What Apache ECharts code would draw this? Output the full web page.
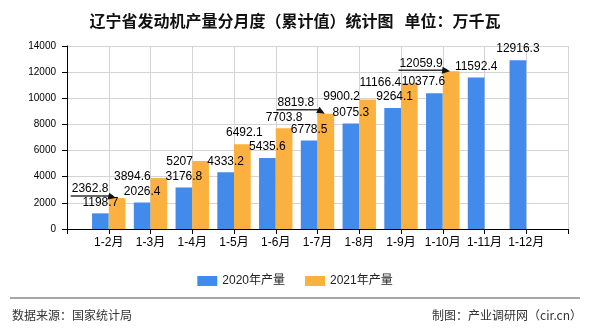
<!DOCTYPE html>
<html>
<head>
<meta charset="utf-8">
<script src="https://cdn.jsdelivr.net/npm/echarts@6/dist/echarts.min.js"></script>
<style>
html,body{margin:0;padding:0;background:#fff;}
#c{width:590px;height:330px;}
</style>
</head>
<body>
<div id="c"></div>
<script>
// ---- data ----
var categories = ['1-2月','1-3月','1-4月','1-5月','1-6月','1-7月','1-8月','1-9月','1-10月','1-11月','1-12月'];
var values2020 = [1198.7, 2026.4, 3176.8, 4333.2, 5435.6, 6778.5, 8075.3, 9264.1, 10377.6, 11592.4, 12916.3];
var values2021 = [2362.8, 3894.6, 5207, 6492.1, 7703.8, 8819.8, 9900.2, 11166.4, 12059.9, null, null];
var seriesNames = ['2020年产量', '2021年产量'];
var yTicks = [0, 2000, 4000, 6000, 8000, 10000, 12000, 14000];

// ---- label layout tweaks (style only) ----
var blueLabelOffsets = [[0,0],[0,0],[0,0],[0,0],[0,0],[0,0],[0,0],[2,0],[-11,-1],[0,0],[0,0]];
var orangeLabelOffsets = [[-27,2],[-26.5,10],[-21,11.5],[2,0],[0,0],[-30,0],[-26,8.5],[-29,11],[-30,3]];
var arrowIdx = [0, 5, 8];

var BLUE = '#428BEB', ORANGE = '#FBB13F';
var NUMFONT = "'Liberation Sans', Arial, sans-serif";
var CJK = "'Liberation Sans', 'Noto Sans CJK SC', sans-serif";

var xData = [''].concat(categories).concat(['']);
function pad(arr, offs) {
  var out = [null];
  for (var i = 0; i < categories.length; i++) {
    var v = arr[i];
    if (v == null) { out.push(null); continue; }
    var o = offs[i] || [0,0];
    out.push({value: v, label: {offset: o}});
  }
  out.push(null);
  return out;
}

var chart = echarts.init(document.getElementById('c'), null, {renderer: 'canvas'});
var option = {
  animation: false,
  title: {
    text: '辽宁省发动机产量分月度（累计值）统计图   单位：万千瓦',
    left: 'center', top: 8,
    textStyle: {fontSize: 16, fontWeight: 'bold', color: '#111', fontFamily: "'Noto Sans CJK SC', sans-serif"}
  },
  legend: {
    data: seriesNames,
    left: 'center', top: 270,
    itemWidth: 20, itemHeight: 10, itemGap: 20,
    icon: 'rect',
    textStyle: {fontSize: 12, color: '#222', fontFamily: CJK}
  },
  grid: {left: 67, right: 22, top: 46, bottom: 101, containLabel: false},
  xAxis: {
    type: 'category',
    data: xData,
    boundaryGap: false,
    axisLine: {show: true, lineStyle: {color: '#000', width: 1}},
    axisTick: {show: true, length: 5, interval: 0, lineStyle: {color: '#000'}},
    axisLabel: {interval: 0, fontSize: 12, color: '#000', margin: 8, fontFamily: CJK},
    splitLine: {show: true, interval: 0, lineStyle: {color: '#d4d4d4', width: 1}}
  },
  yAxis: {
    type: 'value',
    min: yTicks[0], max: yTicks[yTicks.length-1], interval: yTicks[1]-yTicks[0],
    axisLine: {show: true, lineStyle: {color: '#000', width: 1}},
    axisTick: {show: true, length: 5, lineStyle: {color: '#000'}},
    axisLabel: {fontSize: 10, color: '#000', margin: 11, fontFamily: NUMFONT,
      formatter: function (v) { return String(v); }},
    splitLine: {show: true, lineStyle: {color: '#d4d4d4', width: 1}}
  },
  series: [
    {
      name: seriesNames[0], type: 'bar', barWidth: '40%', barGap: '0%',
      itemStyle: {color: BLUE},
      label: {show: true, position: 'top', distance: 5, color: '#000', fontSize: 12, fontFamily: NUMFONT},
      data: pad(values2020, blueLabelOffsets)
    },
    {
      name: seriesNames[1], type: 'bar', barWidth: '40%', barGap: '0%',
      itemStyle: {color: ORANGE},
      label: {show: true, position: 'top', distance: 5, color: '#000', fontSize: 12, fontFamily: NUMFONT},
      data: pad(values2021, orangeLabelOffsets)
    }
  ]
};
chart.setOption(option);

// ---- arrows from some labels to bar tops, computed from the chart's scales ----
var ctx = document.createElement('canvas').getContext('2d');
ctx.font = '12px ' + NUMFONT;
var graphics = [];
arrowIdx.forEach(function (i) {
  var k = i + 1;
  var v = values2021[i];
  var p = chart.convertToPixel({gridIndex: 0}, [k, v]);
  var p2 = chart.convertToPixel({gridIndex: 0}, [k + 1, v]);
  var band = p2[0] - p[0];
  var barW = band * 0.4;
  var barCx = p[0] + barW / 2;
  var topY = p[1];
  var off = orangeLabelOffsets[i];
  var txt = String(v);
  var w = ctx.measureText(txt).width;
  var lcx = barCx + off[0];
  var lcy = topY - 11 + off[1];
  var y0 = lcy + 7;
  var x0 = lcx - w / 2 - 1;
  var tip = [barCx - 1, topY];
  var bend = [p[0], y0];
  graphics.push({
    type: 'polyline', z: 100,
    shape: {points: [[x0, y0], bend, [tip[0] - 3, tip[1] - 2]]},
    style: {stroke: '#333', lineWidth: 1.5, fill: null}
  });
  var dx = tip[0] - bend[0], dy = tip[1] - bend[1];
  var len = Math.sqrt(dx*dx + dy*dy);
  var ux = dx / len, uy = dy / len;
  var L = 8, H = 3.5;
  var bx = tip[0] - ux * L, by = tip[1] - uy * L;
  graphics.push({
    type: 'polygon', z: 100,
    shape: {points: [tip, [bx - uy * H, by + ux * H], [bx + uy * H, by - ux * H]]},
    style: {fill: '#111'}
  });
});
// footer
graphics.push({type: 'line', shape: {x1: 10, y1: 298, x2: 580, y2: 298}, style: {stroke: '#888', lineWidth: 1.5}});
graphics.push({type: 'text', left: 12, top: 309, style: {text: '数据来源：国家统计局', fontSize: 12, fill: '#333', fontFamily: "'Noto Sans CJK SC', sans-serif"}});
graphics.push({type: 'text', right: 8, top: 309, style: {text: '制图：产业调研网（cir.cn）', fontSize: 12, fill: '#333', fontFamily: "'Noto Sans CJK SC', sans-serif"}});
chart.setOption({graphic: graphics});
</script>
</body>
</html>
